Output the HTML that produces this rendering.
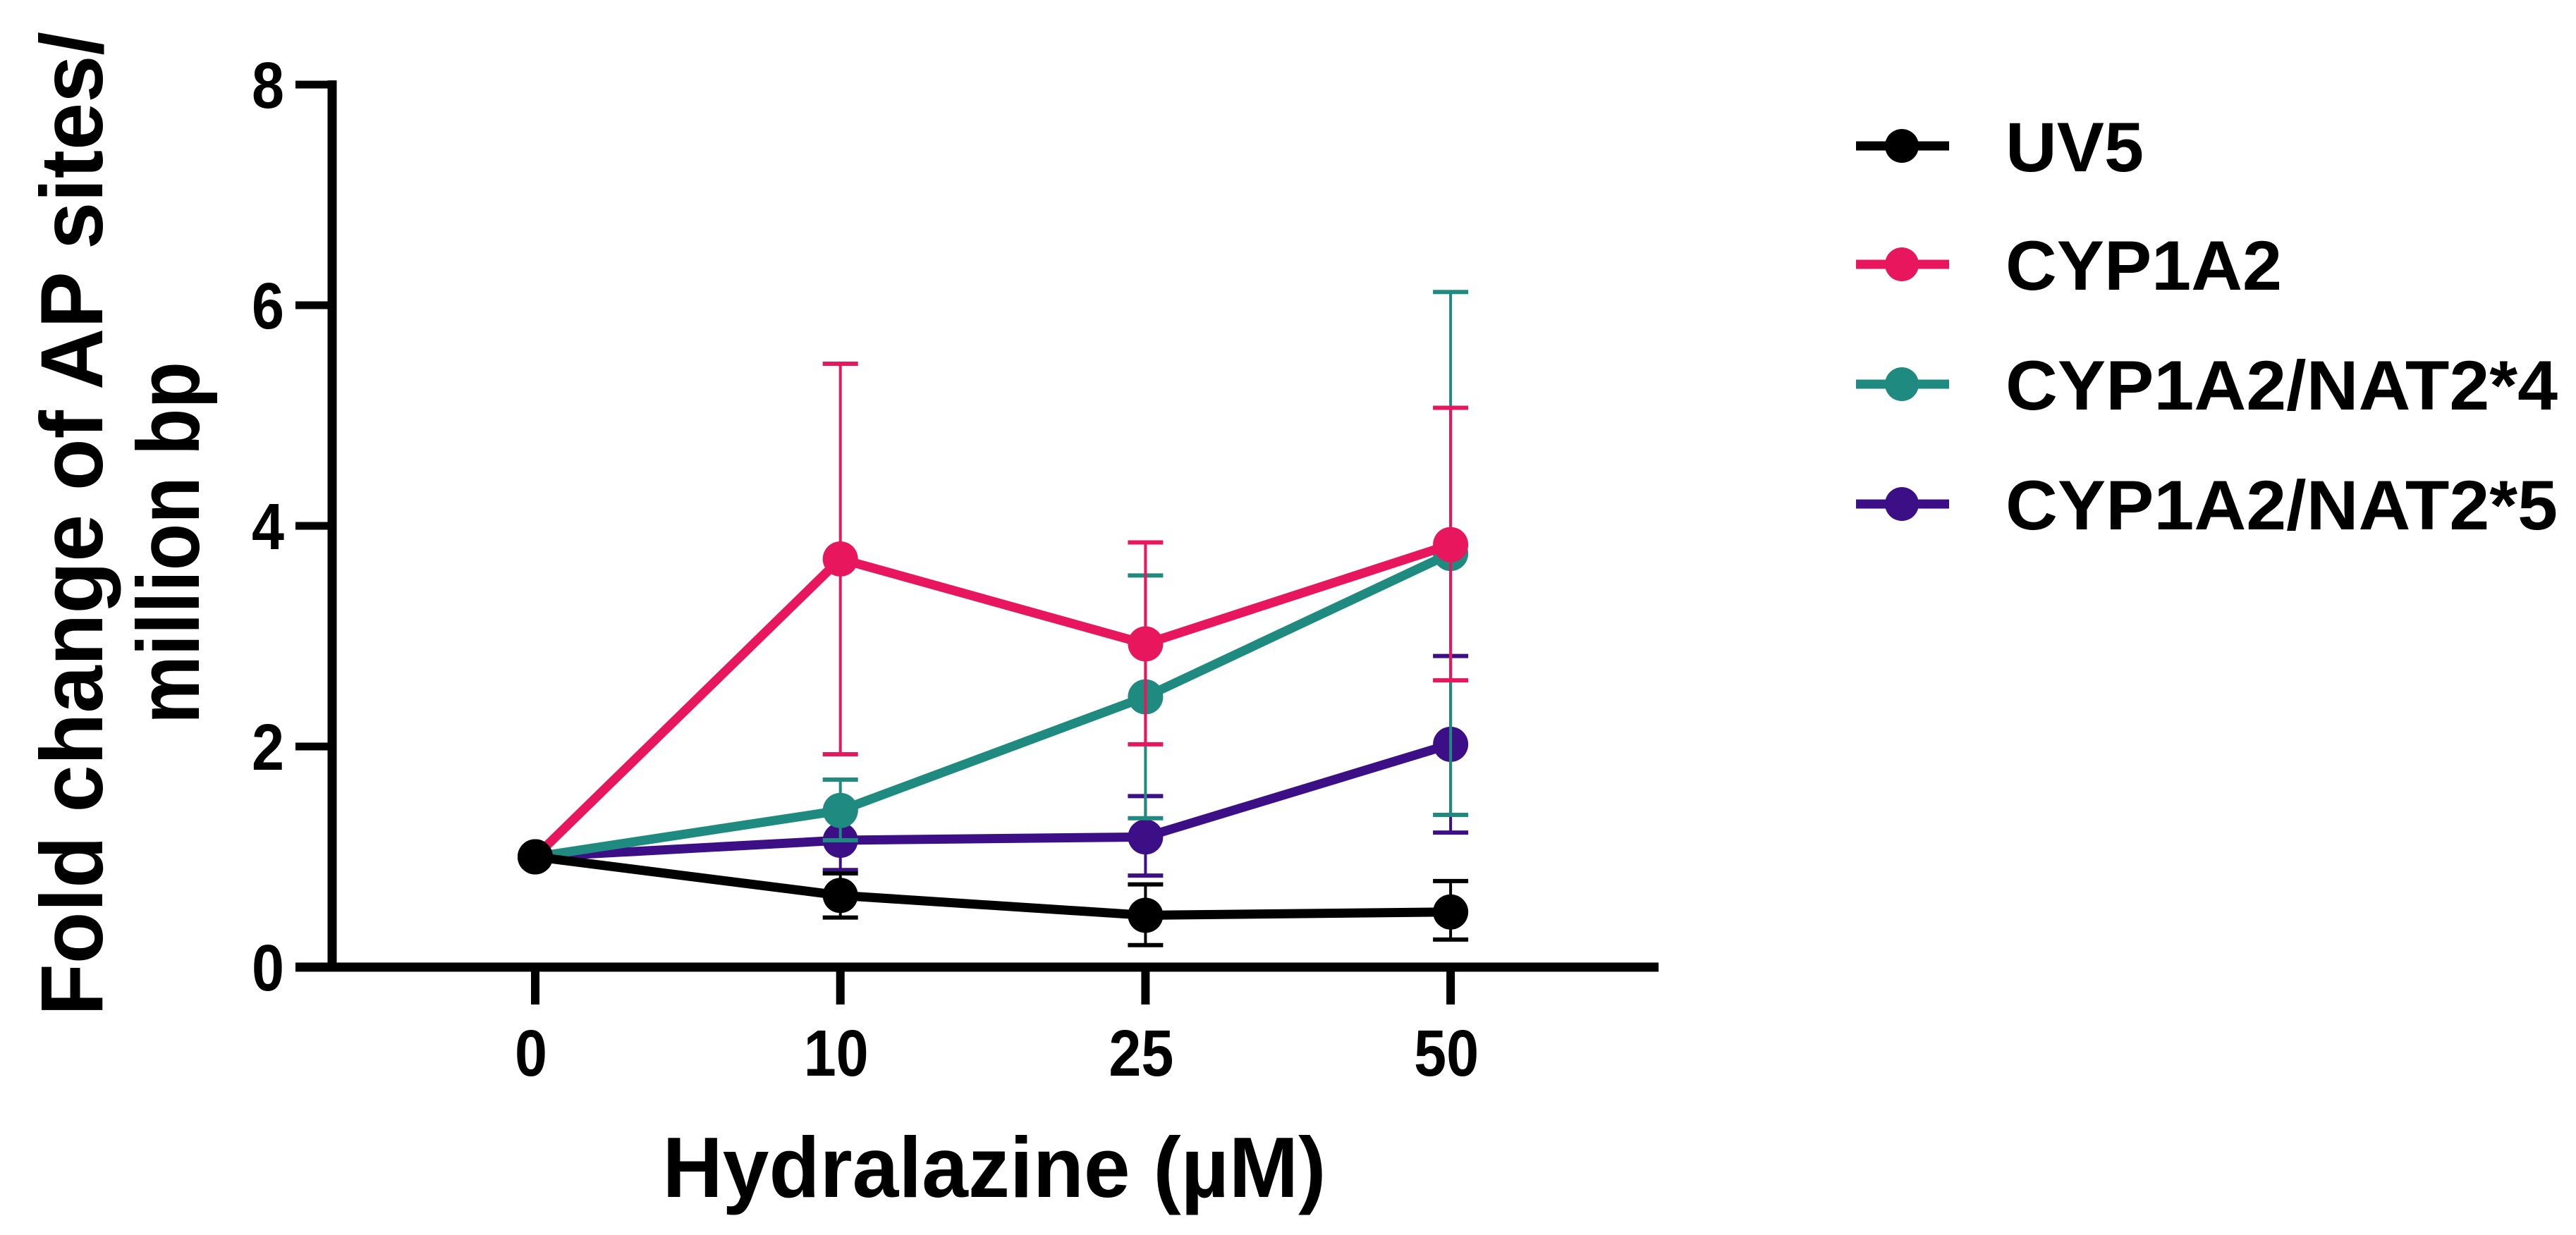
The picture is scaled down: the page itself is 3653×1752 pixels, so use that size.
<!DOCTYPE html>
<html><head><meta charset="utf-8"><style>html,body{margin:0;padding:0;background:#fff;}svg{display:block;}text{font-family:"Liberation Sans",Arial,sans-serif;font-weight:bold;fill:#000;}</style></head>
<body>
<svg id="chart" width="3653" height="1752" viewBox="0 0 3653 1752" xmlns="http://www.w3.org/2000/svg">
<g id="axes"></g><g id="series"></g><g id="legend"></g>
</svg>
<script>
const categories = ["0","10","25","50"];
const yTicks = [0,2,4,6,8];
const seriesNames = ["UV5","CYP1A2","CYP1A2/NAT2*4","CYP1A2/NAT2*5"];
const seriesColors = ["#000000","#e8175d","#1f8a80","#3d0f86"];
const uv5Mean = [1,0.65,0.47,0.5];
const uv5Lo = [1,0.45,0.2,0.25];
const uv5Hi = [1,0.85,0.75,0.78];
const cypMean = [1,3.7,2.93,3.83];
const cypLo = [1,1.93,2.02,2.6];
const cypHi = [1,5.47,3.85,5.07];
const nat4Mean = [1,1.42,2.45,3.75];
const nat4Lo = [1,1.15,1.35,1.38];
const nat4Hi = [1,1.7,3.55,6.12];
const nat5Mean = [1,1.15,1.18,2.02];
const nat5Lo = [1,0.88,0.83,1.22];
const nat5Hi = [1,1.42,1.55,2.82];

const NS="http://www.w3.org/2000/svg";
function el(tag,attrs,parent,txt){const e=document.createElementNS(NS,tag);for(const k in attrs)e.setAttribute(k,attrs[k]);if(txt!==undefined)e.textContent=txt;parent.appendChild(e);return e;}
const X0=759, XSTEP=432.7, Y0=1372, YUNIT=156.5;
function xPos(i){return X0+i*XSTEP;}
function yPos(v){return Y0-v*YUNIT;}
const axes=document.getElementById('axes');
let a=el('line',{x1:471,y1:yPos(8)-6,x2:471,y2:Y0+6,stroke:'#000','stroke-width':13},axes);


a=el('line',{x1:419,y1:Y0,x2:2352,y2:Y0,stroke:'#000','stroke-width':13},axes);


yTicks.forEach(v=>{
  const t=el('line',{x1:419,y1:yPos(v),x2:471,y2:yPos(v),stroke:'#000','stroke-width':11},axes);
  
  
  const l=el('text',{x:380,y:yPos(v)+33,'text-anchor':'middle','font-size':93,textLength:46,lengthAdjust:'spacingAndGlyphs'},axes,String(v));
  
  
});
categories.forEach((c,i)=>{
  const t=el('line',{x1:xPos(i),y1:Y0,x2:xPos(i),y2:1425,stroke:'#000','stroke-width':12},axes);
  
  
  const l=el('text',{x:xPos(i)-6,y:1526,'text-anchor':'middle','font-size':93,textLength:c.length*46,lengthAdjust:'spacingAndGlyphs'},axes,c);
  
  
});
let tt=el('text',{x:1410,y:1698,'text-anchor':'middle','font-size':122,textLength:941,lengthAdjust:'spacingAndGlyphs'},axes,'Hydralazine (µM)');


tt=el('text',{x:0,y:0,'text-anchor':'middle','font-size':125,textLength:1396,lengthAdjust:'spacingAndGlyphs',transform:'translate(145,743) rotate(-90)'},axes,'Fold change of AP sites/');


tt=el('text',{x:0,y:0,'text-anchor':'middle','font-size':125,textLength:514,lengthAdjust:'spacingAndGlyphs',transform:'translate(282,770) rotate(-90)'},axes,'million bp');



const means=[uv5Mean,cypMean,nat4Mean,nat5Mean], los=[uv5Lo,cypLo,nat4Lo,nat5Lo], his=[uv5Hi,cypHi,nat4Hi,nat5Hi];
const order=[3,2,1,0];
const sg=document.getElementById('series');
order.forEach(s=>{
  const g=el('g',{},sg);
  
  
  const col=seriesColors[s];
  means[s].forEach((m,i)=>{
    if(i===0)return;
    const e=el('g',{},g);
    
    
    el('line',{x1:xPos(i),y1:yPos(los[s][i]),x2:xPos(i),y2:yPos(his[s][i]),stroke:col,'stroke-width':4},e);
    el('line',{x1:xPos(i)-25,y1:yPos(los[s][i]),x2:xPos(i)+25,y2:yPos(los[s][i]),stroke:col,'stroke-width':6},e);
    el('line',{x1:xPos(i)-25,y1:yPos(his[s][i]),x2:xPos(i)+25,y2:yPos(his[s][i]),stroke:col,'stroke-width':6},e);
  });
  const pts=means[s].map((m,i)=>xPos(i)+','+yPos(m)).join(' ');
  const pl=el('polyline',{points:pts,fill:'none',stroke:col,'stroke-width':13,'stroke-linejoin':'round'},g);
  
  
  means[s].forEach((m,i)=>{
    const c=el('circle',{cx:xPos(i),cy:yPos(m),r:25,fill:col},g);
    
    
  });
});
const lg=document.getElementById('legend');
const legY=[207,375,545,715];
const legW=[196,392,783,783];
seriesNames.forEach((n,i)=>{
  const g=el('g',{},lg);
  
  
  el('line',{x1:2632,y1:legY[i],x2:2764,y2:legY[i],stroke:seriesColors[i],'stroke-width':13},g);
  el('circle',{cx:2697,cy:legY[i],r:24,fill:seriesColors[i]},g);
  el('text',{x:2844,y:legY[i]+36,'font-size':99,textLength:legW[i],lengthAdjust:'spacingAndGlyphs'},g,n);
});
</script>
</body></html>
